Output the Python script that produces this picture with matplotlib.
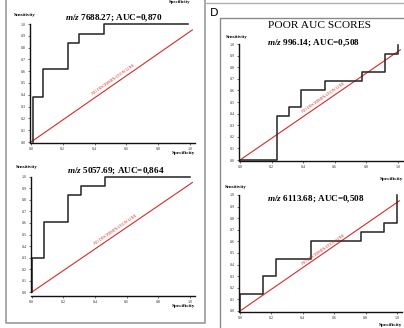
import numpy as np
import matplotlib
matplotlib.use("Agg")
from matplotlib import pyplot as plt
from matplotlib.lines import Line2D

plt.rcParams['font.family'] = ['Liberation Serif', 'DejaVu Serif']
plt.rcParams['mathtext.fontset'] = 'custom'
plt.rcParams['mathtext.it'] = 'Liberation Serif:italic:bold'
plt.rcParams['mathtext.rm'] = 'Liberation Serif:bold'

# ROC curves (x = "Specificity" axis, y = Sensitivity)
titles = [r"$\mathit{m/z}$ 7688.27; AUC=0,870",
          r"$\mathit{m/z}$ 5057.69; AUC=0,864",
          r"$\mathit{m/z}$ 996.14; AUC=0,508",
          r"$\mathit{m/z}$ 6113.68; AUC=0,508"]

fpr1 = [0.01, 0.01, 0.078, 0.078, 0.23, 0.23, 0.304, 0.304, 0.46, 0.46, 0.99]
tpr1 = [0.0, 0.38, 0.38, 0.615, 0.615, 0.84, 0.84, 0.915, 0.915, 1.0, 1.0]

fpr2 = [0.005, 0.005, 0.08, 0.08, 0.23, 0.23, 0.31, 0.31, 0.465, 0.465, 1.0]
tpr2 = [0.0, 0.30, 0.30, 0.605, 0.605, 0.84, 0.84, 0.92, 0.92, 1.0, 1.0]

fpr3 = [0.0, 0.233, 0.233, 0.307, 0.307, 0.385, 0.385, 0.539, 0.539,
        0.772, 0.772, 0.92, 0.92, 0.998, 0.998]
tpr3 = [0.0, 0.0, 0.38, 0.38, 0.454, 0.454, 0.603, 0.603, 0.684,
        0.684, 0.761, 0.761, 0.914, 0.914, 0.99]

fpr4 = [0.0, 0.0, 0.148, 0.148, 0.227, 0.227, 0.455, 0.455, 0.77, 0.77,
        0.92, 0.92, 1.0, 1.0]
tpr4 = [0.0, 0.15, 0.15, 0.30, 0.30, 0.452, 0.452, 0.605, 0.605, 0.683,
        0.683, 0.76, 0.76, 1.0]

diag_x = [0.0, 1.015]
diag_y = [0.0, 0.95]

x_ticks = [0.0, 0.2, 0.4, 0.6, 0.8, 1.0]
y_ticks = [0.0, 0.1, 0.2, 0.3, 0.4, 0.5, 0.6, 0.7, 0.8, 0.9, 1.0]

W, H = 404, 328
fig = plt.figure(figsize=(W / 100, H / 100), dpi=100)


def px(x, y):
    # pixel position -> figure fraction
    return x / W, 1 - y / H


def panel(px0, px1, py0, py1, ylow, fpr, tpr, title, tpos, sens_pos, spec_pos, txt_pos):
    xlim = (-0.005, 1.03)
    ylim = (ylow, 1.02)
    sx = px1 - px0
    sy = py0 - py1
    left = px0 + xlim[0] * sx
    right = px0 + xlim[1] * sx
    bottom = py0 - ylim[0] * sy
    top = py0 - ylim[1] * sy
    ax = fig.add_axes([left / W, 1 - bottom / H, (right - left) / W, (bottom - top) / H])
    ax.set_xlim(xlim)
    ax.set_ylim(ylim)
    ax.patch.set_alpha(0)
    for s in ['top', 'right']:
        ax.spines[s].set_visible(False)
    for s in ['left', 'bottom']:
        ax.spines[s].set_linewidth(1.0)
        ax.spines[s].set_color('#111111')
    ax.spines['left'].set_bounds(0, 1.0)
    ax.set_xticks(x_ticks)
    ax.set_yticks(y_ticks)
    ax.set_xticklabels(['%.1f' % v for v in x_ticks])
    ax.set_yticklabels(['%.1f' % v for v in y_ticks])
    ax.tick_params(labelsize=3, length=1.5, width=0.5, pad=1.5, colors='#333333')

    ax.plot(diag_x, diag_y, color='#d62a2a', lw=0.8, clip_on=False)
    ax.plot(fpr, tpr, color='#2a2a2a', lw=1.15, clip_on=False)
    ax.text(txt_pos[0], txt_pos[1], 'NO DISCRIMINATION LINE', color='#d62a2a',
            fontsize=3, rotation=np.degrees(np.arctan(diag_y[1] / diag_x[1])),
            transform_rotates_text=True, rotation_mode='anchor',
            ha='center', va='center')

    fig.text(*px(*tpos), title, fontsize=6.6, fontweight='bold', ha='center', va='center')
    fig.text(*px(*sens_pos), 'Sensitivity', fontsize=3.5, fontweight='bold',
             ha='center', va='center')
    fig.text(*px(*spec_pos), 'Specificity', fontsize=3.8, fontweight='bold',
             ha='center', va='center')
    return ax


panel(31, 190, 142, 24, -0.01, fpr1, tpr1, titles[0], (114, 18), (25, 15), (183, 153), (0.52, 0.53))
panel(31.5, 190, 292.3, 176.7, -0.03, fpr2, tpr2, titles[1], (116, 171), (27, 167), (183, 306), (0.53, 0.54))
panel(240, 398, 160, 44, -0.01, fpr3, tpr3, titles[2], (314, 43), (237, 37), (391, 179), (0.53, 0.54))
panel(240, 397, 311, 195, -0.01, fpr4, tpr4, titles[3], (316, 199), (236, 187), (390, 325), (0.53, 0.53))

# panel frames
def frame_line(xs, ys, color='#9a9a9a', lw=1.2):
    fx = [x / W for x in xs]
    fy = [1 - y / H for y in ys]
    fig.add_artist(Line2D(fx, fy, color=color, lw=lw, transform=fig.transFigure))

frame_line([6, 6, 205, 205], [0, 322.5, 322.5, 0])
frame_line([205, 404], [3, 3], color='#b0b0b0', lw=1.0)
frame_line([219.5, 219.5, 404], [328, 18, 18], color='#8a8a8a', lw=1.0)

# x label of the chart above, mostly outside the picture in the reference
fig.text(*px(180, 2.5), 'Specificity', fontsize=3.5, fontweight='bold', ha='center', va='center')
fig.text(*px(320, 25), 'POOR AUC SCORES', fontsize=8.2, ha='center', va='center')
fig.text(*px(214.5, 13), 'D', fontsize=8, family='DejaVu Sans', ha='center', va='center')

plt.savefig('out.png', dpi=100)
